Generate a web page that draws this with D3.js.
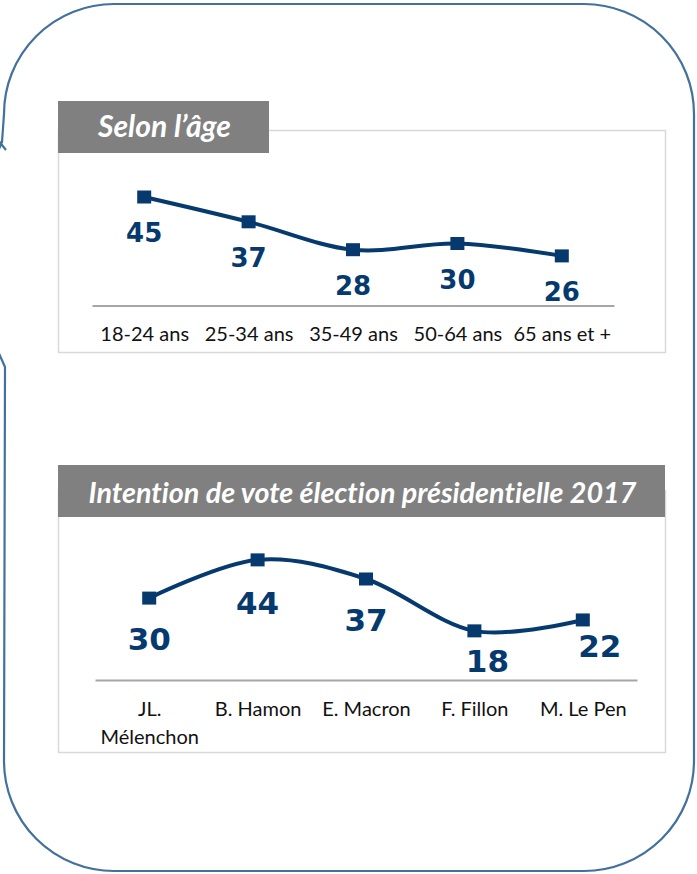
<!DOCTYPE html>
<html lang="fr">
<head>
<meta charset="UTF-8">
<title>Selon l'âge / Intention de vote</title>
<script src="https://d3js.org/d3.v7.min.js"></script>
<style>
  body { margin: 0; background: #fff; }
  svg { display: block; }
  text { font-variant-ligatures: none; }
  .cat text { font-family: Lato, "Open Sans", sans-serif; fill: #111; }
  .val { font-family: "DejaVu Sans", Verdana, sans-serif; font-weight: bold; fill: #063a6e; text-anchor: middle; }
  .ttl { font-family: Lato, "Open Sans", sans-serif; font-weight: bold; font-style: italic; fill: #fff; text-anchor: middle; }
</style>
</head>
<body>
<div id="chart"></div>
<script>
// data
const ageTitle = "Selon l\u2019âge";
const ageCats = ["18-24 ans", "25-34 ans", "35-49 ans", "50-64 ans", "65 ans et +"];
const ageValues = [45, 37, 28, 30, 26];

const voteTitle = "Intention de vote élection présidentielle 2017";
const voteCats = ["JL. Mélenchon", "B. Hamon", "E. Macron", "F. Fillon", "M. Le Pen"];
const voteValues = [30, 44, 37, 18, 22];

const W = 697, H = 874;
const navy = "#063a6e";

const svg = d3.select("#chart").append("svg")
    .attr("width", W)
    .attr("height", H);

// outer callout outline (tail runs off the left edge)
const outline = d3.path();
outline.moveTo(6, 150); outline.lineTo(-30, 105);
outline.moveTo(-10, 333); outline.lineTo(5, 367);
outline.lineTo(4, 761);
outline.arcTo(4, 871, 114, 871, 110);
outline.lineTo(584, 871);
outline.arcTo(694, 871, 694, 761, 110);
outline.lineTo(694, 114);
outline.arcTo(694, 4, 584, 4, 110);
outline.lineTo(114, 4);
outline.arcTo(4, 4, 4, 114, 110);
outline.lineTo(2, 142);
outline.lineTo(-10, 170);
svg.append("path")
    .attr("d", outline.toString())
    .attr("fill", "none")
    .attr("stroke", "#41719c")
    .attr("stroke-width", 2.2);

function fitTitle(sel, target) {
    const w = sel.node().getComputedTextLength();
    const fs = parseFloat(sel.style("font-size"));
    sel.style("font-size", (fs * target / w) + "px");
}

function wrap(text, width) {
    text.each(function() {
        const t = d3.select(this);
        if (this.getComputedTextLength() <= width) return;
        const words = t.text().split(" ");
        const first = words.slice(0, -1).join(" ");
        const last = words[words.length - 1];
        const y = t.attr("y"), dy = t.attr("dy");
        t.text(null);
        t.append("tspan").attr("x", 0).attr("y", y).attr("dy", dy).text(first);
        t.append("tspan").attr("x", 0).attr("y", y).attr("dy", (parseFloat(dy) + 1.4) + "em").text(last);
    });
}

function panel(opt) {
    const g = svg.append("g");

    // frame
    g.append("rect")
        .attr("x", opt.frame[0] + 0.5).attr("y", opt.frame[1] + 0.5)
        .attr("width", opt.frame[2]).attr("height", opt.frame[3])
        .attr("fill", "#fff").attr("stroke", "#d9d9d9").attr("stroke-width", 1.5);

    // title box
    g.append("rect")
        .attr("x", opt.tbox[0]).attr("y", opt.tbox[1])
        .attr("width", opt.tbox[2]).attr("height", opt.tbox[3])
        .attr("fill", "#808080");
    const tt = g.append("text").attr("class", "ttl")
        .attr("x", opt.tbox[0] + opt.tbox[2] / 2 + 1)
        .attr("y", opt.tbase)
        .style("font-size", "24px")
        .text(opt.title);
    fitTitle(tt, opt.twidth);

    const x = d3.scalePoint().domain(opt.cats).range(opt.xr).padding(0.5);
    const y = d3.scaleLinear().domain(opt.yd).range(opt.yr);

    const ax = g.append("g").attr("class", "cat")
        .attr("transform", `translate(0,${opt.yr[0]})`)
        .call(d3.axisBottom(x).tickSize(0).tickSizeOuter(0).tickPadding(21.5));
    ax.select(".domain").attr("stroke", "#a6a6a6").attr("stroke-width", 2);
    ax.selectAll("text").attr("fill", "#111").style("font-size", "20px")
        .call(wrap, x.step() - 4);

    const pts = opt.cats.map((c, i) => [x(c), y(opt.values[i])]);

    g.append("path")
        .attr("d", d3.line().curve(d3.curveCatmullRom.alpha(0))(pts))
        .attr("fill", "none")
        .attr("stroke", navy)
        .attr("stroke-width", 4);

    g.selectAll(".mk").data(pts).join("rect")
        .attr("x", d => d[0] - 7).attr("y", d => d[1] - 6.5)
        .attr("width", 14).attr("height", 13)
        .attr("fill", navy);

    g.selectAll(".val").data(opt.values).join("text")
        .attr("class", "val")
        .style("font-size", opt.vsize + "px")
        .attr("x", (d, i) => x(opt.cats[i]) + (opt.nudge ? opt.nudge[i][0] : 0))
        .attr("y", (d, i) => y(d) + opt.vdy + (opt.nudge ? opt.nudge[i][1] : 0))
        .text(d => d);
}

panel({
    title: ageTitle, cats: ageCats, values: ageValues,
    frame: [58, 130, 607, 222],
    tbox: [58, 101, 211, 52], tbase: 137, twidth: 133,
    xr: [92, 614], yd: [10, 50], yr: [305.5, 181.5],
    vsize: 26, vdy: 45
});

panel({
    title: voteTitle, cats: voteCats, values: voteValues,
    frame: [58, 490, 607, 262],
    tbox: [58, 465, 607, 52], tbase: 503, twidth: 548,
    xr: [95, 637], yd: [0, 50], yr: [680, 543.5],
    vsize: 31, vdy: 52,
    nudge: [[0, 0], [0, 2], [0, 0], [13, -11], [17, -15]]
});
</script>
</body>
</html>
